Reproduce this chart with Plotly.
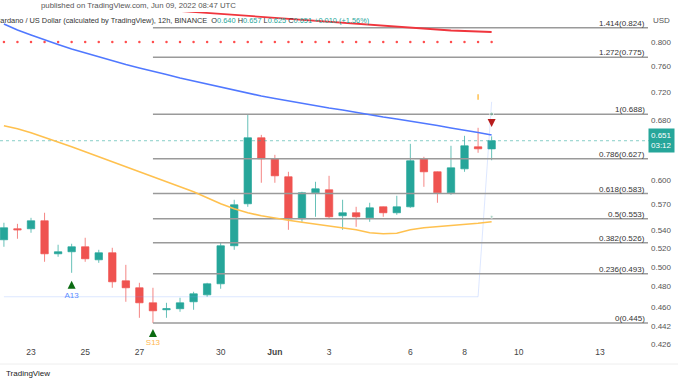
import numpy as np
import pandas as pd
import plotly.graph_objects as go

# ---------------- data ----------------
times = pd.date_range("2022-05-22 00:00", periods=37, freq="12h")

opens  = [.5294,.5417,.5417,.5508,.5141,.5163,.5217,.5077,.5152,.4859,.4789,.4641,.4574,.4584,.4651,.4719,.4829,.5228,.5707,.6550,
          .6269,.6038,.5531,.5839,.5876,.5566,.5601,.5542,.5671,.5601,.5671,.6269,.6101,.5839,.6139,.6428,.6400]
highs  = [.5485,.5473,.5542,.5601,.5239,.5250,.5316,.5184,.5206,.5024,.4839,.4789,.4641,.4690,.4749,.4839,.5261,.5755,.6880,.6590,
          .6321,.6101,.5852,.5975,.6050,.5755,.5671,.5719,.5675,.5803,.6468,.6295,.6105,.6441,.6577,.6688,.6570]
lows   = [.5217,.5305,.5372,.5056,.5109,.4941,.5056,.5045,.4789,.4651,.4498,.4450,.4498,.4555,.4574,.4700,.4779,.5184,.5671,.5963,
          .5963,.5405,.5496,.5554,.5531,.5405,.5439,.5496,.5554,.5577,.5659,.5913,.5719,.5815,.6101,.6348,.6250]
closes = [.5428,.5405,.5508,.5141,.5163,.5217,.5088,.5152,.4849,.4789,.4641,.4564,.4584,.4641,.4729,.4829,.5228,.5695,.6550,.6269,
          .6050,.5531,.5839,.5888,.5554,.5601,.5554,.5659,.5601,.5671,.6243,.6101,.5839,.6152,.6441,.6401,.6510]

ma_blue = [.8306,.8203,.8118,.8033,.7958,.7884,.7818,.7753,.7689,.7633,.7577,.7530,.7475,.7421,.7374,.7321,.7275,.7237,.7192,.7147,
           .7110,.7073,.7043,.7007,.6970,.6941,.6905,.6876,.6840,.6812,.6784,.6748,.6720,.6685,.6657,.6623,.6588]
ma_yellow = [.6716,.6674,.6619,.6557,.6495,.6428,.6361,.6295,.6230,.6165,.6101,.6038,.5975,.5913,.5852,.5779,.5707,.5648,.5601,.5566,
             .5537,.5514,.5491,.5468,.5451,.5428,.5405,.5372,.5360,.5366,.5405,.5428,.5439,.5451,.5462,.5479,.5496]
ma_red = [None]*13 + [.8535,.8517,.8499,.8482,.8464,.8446,.8437,.8420,.8402,.8385,.8367,.8350,.8324,.8306,.8289,.8272,.8254,
                      .8237,.8220,.8212,.8194,.8186,.8177,.8169]
red_dots = [0.800]*37
faint_line = [0.470]*36 + [0.706]

fib_ratios = ["1.414", "1.272", "1", "0.786", "0.618", "0.5", "0.382", "0.236", "0"]
fib_prices = [0.824, 0.775, 0.688, 0.627, 0.583, 0.553, 0.526, 0.493, 0.445]
fib_start = "2022-05-27 12:00"
fib_end = "2022-06-14 18:30"
fib_label_x = "2022-06-14 18:00"

last_price = 0.651

y_ticks = [0.800, 0.760, 0.720, 0.680, 0.600, 0.570, 0.540, 0.520, 0.500, 0.480, 0.460, 0.442, 0.426]
x_tick_dates = ["2022-05-23", "2022-05-25", "2022-05-27", "2022-05-30", "2022-06-01",
                "2022-06-03", "2022-06-06", "2022-06-08", "2022-06-10", "2022-06-13"]
x_tick_text = ["23", "25", "27", "30", "<b>Jun</b>", "3", "6", "8", "10", "13"]

signal_up_x = ["2022-05-24 12:00", "2022-05-27 12:00"]
signal_up_y = [0.4859, 0.4394]
signal_text_x = ["2022-05-24 12:00", "2022-05-27 12:00"]
signal_text_y = [0.4709, 0.4268]
signal_text = ["A13", "S13"]

x_range = ["2022-05-21 20:32", "2022-06-14 20:17"]
y_range_vals = [0.42497, 0.8517]

GREEN = "#26a69a"
RED = "#ef5350"
FONT = "Liberation Sans"

fig = go.Figure()

# faint light-blue indicator line
fig.add_trace(go.Scatter(x=times, y=faint_line, mode="lines",
                         line=dict(color="rgba(120,160,255,0.25)", width=1), hoverinfo="skip"))
# teal dotted last price line
fig.add_trace(go.Scatter(x=x_range, y=[last_price, last_price], mode="lines",
                         line=dict(color="rgba(38,166,154,0.55)", width=1, dash="dot"), hoverinfo="skip"))

# fib lines
for p in fib_prices:
    fig.add_trace(go.Scatter(x=[fib_start, fib_end], y=[p, p], mode="lines",
                             line=dict(color="#9a9a9a", width=1.5), hoverinfo="skip"))

# moving averages
fig.add_trace(go.Scatter(x=times, y=ma_yellow, mode="lines", line=dict(color="#ffc14f", width=1.6), hoverinfo="skip"))
fig.add_trace(go.Scatter(x=times, y=ma_blue, mode="lines", line=dict(color="#5078ff", width=1.6), hoverinfo="skip"))
fig.add_trace(go.Scatter(x=times, y=ma_red, mode="lines", line=dict(color="#f0353d", width=1.8), hoverinfo="skip"))
fig.add_trace(go.Scatter(x=times, y=red_dots, mode="markers",
                         marker=dict(color="#ff4d4d", size=2.5), hoverinfo="skip"))

# candles
fig.add_trace(go.Candlestick(
    x=times, open=opens, high=highs, low=lows, close=closes,
    increasing=dict(line=dict(color="rgba(38,166,154,0.7)", width=1), fillcolor=GREEN),
    decreasing=dict(line=dict(color="rgba(239,83,80,0.7)", width=1), fillcolor=RED),
    whiskerwidth=0, hoverinfo="skip"))

# signal markers
fig.add_trace(go.Scatter(x=signal_up_x, y=signal_up_y, mode="markers",
                         marker=dict(symbol="arrow-up", color="#0b6b12", size=8), hoverinfo="skip"))
fig.add_trace(go.Scatter(x=signal_text_x, y=signal_text_y, mode="text", text=signal_text,
                         textfont=dict(family=FONT, size=8, color=["#5b8cff", "#ffb74d"]), hoverinfo="skip"))
fig.add_trace(go.Scatter(x=["2022-06-09 00:00"], y=[0.6700], mode="markers",
                         marker=dict(symbol="arrow-down", color="#b71c1c", size=8), hoverinfo="skip"))
fig.add_trace(go.Scatter(x=["2022-06-09 00:00", "2022-06-09 00:00"], y=[0.6883, 0.5554], mode="markers",
                         marker=dict(symbol="circle", color="rgba(90,170,140,0.7)", size=[4, 3]), hoverinfo="skip"))
fig.add_trace(go.Scatter(x=["2022-06-08 12:00"], y=[0.7132], mode="markers",
                         marker=dict(symbol="line-ns", color="#ffc14f", size=4, line=dict(width=1.5, color="#ffc14f")),
                         hoverinfo="skip"))

annotations = []
for r, p in zip(fib_ratios, fib_prices):
    annotations.append(dict(x=fib_label_x, y=np.log10(p), xref="x", yref="y", text=f"{r}({p:.3f})",
                            showarrow=False, xanchor="right", yanchor="bottom", yshift=-2,
                            font=dict(family=FONT, size=8, color="#333")))

annotations.append(dict(x=1, y=np.log10(last_price), xref="paper", yref="y", text="0.651<br>03:12",
                        showarrow=False, xanchor="left", yanchor="middle", xshift=-2, align="left",
                        bgcolor=GREEN, borderpad=2, font=dict(family=FONT, size=8, color="white")))
annotations.append(dict(x=1, y=(345 - 20) / 333, xref="paper", yref="paper", text="USD", showarrow=False,
                        xanchor="left", yanchor="middle", xshift=1, font=dict(family=FONT, size=8, color="#555")))
annotations.append(dict(x=138 / 650, y=(345 - 6) / 333, xref="paper", yref="paper",
                        text="published on TradingView.com, Jun 09, 2022 08:47 UTC", showarrow=False,
                        xanchor="center", yanchor="middle", font=dict(family=FONT, size=7.8, color="#555")))
legend_txt = ("Cardano / US Dollar (calculated by TradingView), 12h, BINANCE  "
              f"O<span style='color:{GREEN}'>0.640</span> H<span style='color:{GREEN}'>0.657</span> "
              f"L<span style='color:{GREEN}'>0.625</span> C<span style='color:{GREEN}'>0.651</span> "
              f"<span style='color:{GREEN}'>+0.010 (+1.56%)</span>")
annotations.append(dict(x=-0.011, y=(345 - 20) / 333, xref="paper", yref="paper", text=legend_txt,
                        showarrow=False, xanchor="left", yanchor="middle",
                        font=dict(family=FONT, size=7.4, color="#333")))
annotations.append(dict(x=4 / 650, y=(345 - 373) / 333, xref="paper", yref="paper", text="TradingView",
                        showarrow=False, xanchor="left", yanchor="middle",
                        font=dict(family=FONT, size=8, color="#222")))

fig.update_layout(
    width=678, height=381,
    margin=dict(l=0, r=28, t=12, b=36),
    plot_bgcolor="white", paper_bgcolor="white",
    showlegend=False,
    boxgap=0.22,
    font=dict(family=FONT),
    annotations=annotations,
    shapes=[dict(type="line", xref="paper", yref="paper", x0=0, x1=1.05, y0=(345 - 364) / 333,
                 y1=(345 - 364) / 333, line=dict(color="#eeeeee", width=1))],
    xaxis=dict(type="date", range=x_range, rangeslider=dict(visible=False), showgrid=False, zeroline=False,
               showline=False, ticks="", tickvals=x_tick_dates, ticktext=x_tick_text,
               tickfont=dict(family=FONT, size=8.5, color="#444")),
    yaxis=dict(type="log", side="right", range=[np.log10(y_range_vals[0]), np.log10(y_range_vals[1])],
               showgrid=False, zeroline=False, showline=False, ticks="",
               tickvals=y_ticks, ticktext=[f"{v:.3f}" for v in y_ticks],
               tickfont=dict(family=FONT, size=8, color="#555")),
)

fig.write_html("out.html", config={"displayModeBar": False},
               post_script="document.body.style.margin='0';")
